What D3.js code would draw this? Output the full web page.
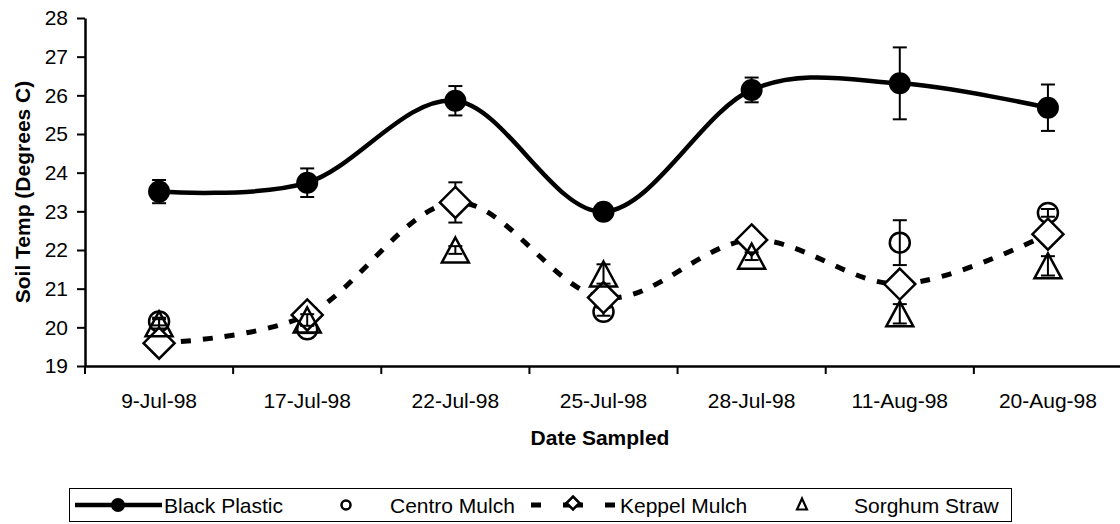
<!DOCTYPE html>
<html>
<head>
<meta charset="utf-8">
<script src="https://cdn.jsdelivr.net/npm/d3@7.9.0/dist/d3.min.js"></script>
<style>
  body { margin: 0; background: #fff; }
  svg { display: block; font-family: "Liberation Sans", Arial, sans-serif; }
</style>
</head>
<body>
<svg id="chart" width="1120" height="524"></svg>
<script>
const dates = ['9-Jul-98', '17-Jul-98', '22-Jul-98', '25-Jul-98', '28-Jul-98', '11-Aug-98', '20-Aug-98'];

const blackPlastic    = [23.51, 23.74, 25.86, 22.99, 26.14, 26.31, 25.68];
const blackPlasticErr = [0.30, 0.37, 0.38, 0.10, 0.32, 0.93, 0.60];

const centroMulch    = [20.15, 19.95, 23.23, 20.40, 22.26, 22.19, 22.96];
const centroMulchErr = [0.10, 0.10, 0.15, 0.10, 0.15, 0.58, 0.10];

const keppelMulch    = [19.59, 20.32, 23.23, 20.77, 22.26, 21.12, 22.41];
const keppelMulchErr = [0.10, 0.10, 0.52, 0.10, 0.10, 0.10, 0.10];

const sorghumStraw    = [20.09, 20.19, 22.00, 21.38, 21.84, 20.35, 21.59];
const sorghumStrawErr = [0.12, 0.15, 0.10, 0.25, 0.10, 0.25, 0.25];

const yTicks = [19, 20, 21, 22, 23, 24, 25, 26, 27, 28];

const svg = d3.select('#chart');
const fontSize = 21;

const x = d3.scaleBand().domain(dates).range([85, 1122]).padding(0);
const y = d3.scaleLinear().domain([19, 28]).range([366, 18]);
const cx = d => x(d) + x.bandwidth() / 2;

// axes
const yAxis = svg.append('g')
  .attr('transform', 'translate(85,0)')
  .call(d3.axisLeft(y).tickValues(yTicks).tickSize(8).tickPadding(9).tickSizeOuter(0));
yAxis.select('.domain').attr('stroke-width', 2.5);
yAxis.selectAll('.tick line').attr('stroke-width', 2);
yAxis.selectAll('text').attr('font-size', fontSize).attr('font-family', 'Liberation Sans, Arial').attr('fill', '#000');

const xAxis = svg.append('g')
  .attr('transform', 'translate(0,366)')
  .call(d3.axisBottom(x).tickSize(0).tickPadding(27).tickSizeOuter(0));
xAxis.select('.domain').attr('stroke-width', 2.5);
xAxis.selectAll('text').attr('font-size', fontSize).attr('font-family', 'Liberation Sans, Arial').attr('fill', '#000');

// category boundary ticks
svg.append('g').selectAll('line')
  .data(dates)
  .join('line')
  .attr('x1', d => x(d)).attr('x2', d => x(d))
  .attr('y1', 366).attr('y2', 374)
  .attr('stroke', '#000').attr('stroke-width', 2);

// axis titles
svg.append('text')
  .attr('transform', `translate(30,${(y(19) + y(28)) / 2}) rotate(-90)`)
  .attr('text-anchor', 'middle')
  .attr('font-size', fontSize).attr('font-weight', 'bold')
  .text('Soil Temp (Degrees C)');

svg.append('text')
  .attr('x', 600).attr('y', 445)
  .attr('text-anchor', 'middle')
  .attr('font-size', fontSize).attr('font-weight', 'bold')
  .text('Date Sampled');

// marker shapes
const diamondPath = s => `M0,${-s}L${s},0L0,${s}L${-s},0Z`;
const trianglePath = (w, h) => `M0,${-h}L${w},${h}L${-w},${h}Z`;

function rows(values, errs) {
  return dates.map((d, i) => ({ date: d, v: values[i], e: errs[i] }));
}

// error bars sit under the markers
function drawErrors(g, data) {
  const eb = g.append('g').attr('stroke', '#000').attr('stroke-width', 2);
  eb.selectAll('.v').data(data).join('line')
    .attr('x1', d => cx(d.date)).attr('x2', d => cx(d.date))
    .attr('y1', d => y(d.v - d.e)).attr('y2', d => y(d.v + d.e));
  eb.selectAll('.t').data(data).join('line')
    .attr('x1', d => cx(d.date) - 7).attr('x2', d => cx(d.date) + 7)
    .attr('y1', d => y(d.v + d.e)).attr('y2', d => y(d.v + d.e));
  eb.selectAll('.b').data(data).join('line')
    .attr('x1', d => cx(d.date) - 7).attr('x2', d => cx(d.date) + 7)
    .attr('y1', d => y(d.v - d.e)).attr('y2', d => y(d.v - d.e));
}

const smooth = d3.line().x(d => cx(d.date)).y(d => y(d.v)).curve(d3.curveCatmullRom.alpha(0));

// Black Plastic
const bp = rows(blackPlastic, blackPlasticErr);
const gBP = svg.append('g');
gBP.append('path').attr('d', smooth(bp)).attr('fill', 'none').attr('stroke', '#000').attr('stroke-width', 4.5);
drawErrors(gBP, bp);
gBP.selectAll('circle').data(bp).join('circle')
  .attr('cx', d => cx(d.date)).attr('cy', d => y(d.v)).attr('r', 11).attr('fill', '#000');

// Centro Mulch
const cm = rows(centroMulch, centroMulchErr);
const gCM = svg.append('g');
drawErrors(gCM, cm);
gCM.selectAll('circle').data(cm).join('circle')
  .attr('cx', d => cx(d.date)).attr('cy', d => y(d.v)).attr('r', 10)
  .attr('fill', 'none').attr('stroke', '#000').attr('stroke-width', 2.5);

// Keppel Mulch
const km = rows(keppelMulch, keppelMulchErr);
const gKM = svg.append('g');
gKM.append('path').attr('d', smooth(km)).attr('fill', 'none').attr('stroke', '#000')
  .attr('stroke-width', 5).attr('stroke-dasharray', '10,12');
drawErrors(gKM, km);
gKM.selectAll('path.m').data(km).join('path').attr('class', 'm')
  .attr('transform', d => `translate(${cx(d.date)},${y(d.v)})`)
  .attr('d', diamondPath(15.5))
  .attr('fill', '#fff').attr('stroke', '#000').attr('stroke-width', 2.5);

// Sorghum Straw
const ss = rows(sorghumStraw, sorghumStrawErr);
const gSS = svg.append('g');
drawErrors(gSS, ss);
gSS.selectAll('path.m').data(ss).join('path').attr('class', 'm')
  .attr('transform', d => `translate(${cx(d.date)},${y(d.v)})`)
  .attr('d', trianglePath(13.5, 12.5))
  .attr('fill', 'none').attr('stroke', '#000').attr('stroke-width', 2.5);

// legend
const leg = svg.append('g');
leg.append('rect').attr('x', 69.5).attr('y', 488.5).attr('width', 942).attr('height', 33)
  .attr('fill', '#fff').attr('stroke', '#000').attr('stroke-width', 1);
const ly = 505;
leg.append('line').attr('x1', 75).attr('x2', 162).attr('y1', ly).attr('y2', ly)
  .attr('stroke', '#000').attr('stroke-width', 4.5);
leg.append('circle').attr('cx', 118).attr('cy', ly).attr('r', 7).attr('fill', '#000');
leg.append('circle').attr('cx', 346).attr('cy', ly).attr('r', 4.5)
  .attr('fill', 'none').attr('stroke', '#000').attr('stroke-width', 2.5);
leg.append('line').attr('x1', 531).attr('x2', 615).attr('y1', ly).attr('y2', ly)
  .attr('stroke', '#000').attr('stroke-width', 5).attr('stroke-dasharray', '10,22,20,22,10');
leg.append('path').attr('transform', `translate(573,${ly - 2})`).attr('d', diamondPath(6.5))
  .attr('fill', '#fff').attr('stroke', '#000').attr('stroke-width', 2.5);
leg.append('path').attr('transform', `translate(802,${ly - 1})`).attr('d', trianglePath(5, 5.5))
  .attr('fill', 'none').attr('stroke', '#000').attr('stroke-width', 2.2);

const legendItems = [
  { label: 'Black Plastic', x: 164 },
  { label: 'Centro Mulch', x: 390 },
  { label: 'Keppel Mulch', x: 620 },
  { label: 'Sorghum Straw', x: 854 }
];
leg.selectAll('text').data(legendItems).join('text')
  .attr('x', d => d.x).attr('y', ly + 8)
  .attr('font-size', fontSize)
  .text(d => d.label);
</script>
</body>
</html>
